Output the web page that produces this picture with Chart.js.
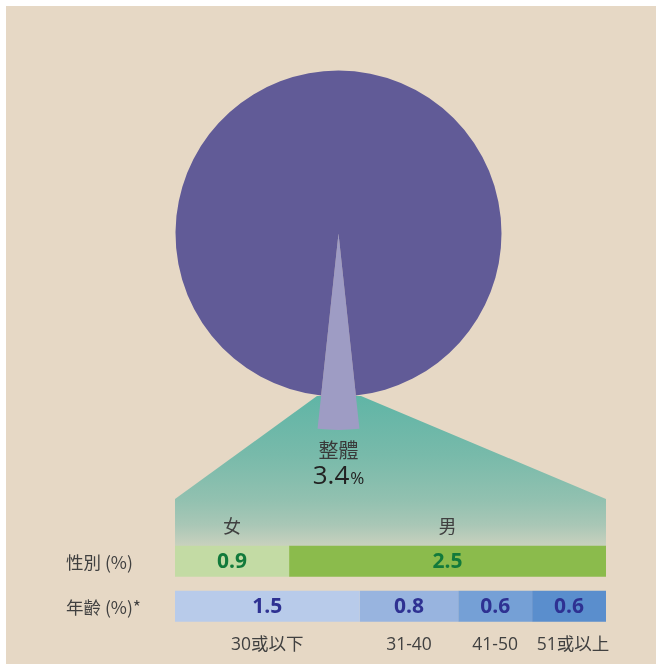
<!DOCTYPE html>
<html>
<head>
<meta charset="utf-8">
<script src="https://cdn.jsdelivr.net/npm/chart.js@4"></script>
<style>
  html, body { margin:0; padding:0; background:#ffffff; }
  #wrap { position:relative; width:660px; height:664px; overflow:hidden; background:#ffffff; }
  #paper { position:absolute; left:6px; top:6px; width:650px; height:658px; background:#e6d8c5; }
  #fan { position:absolute; left:0; top:0; width:660px; height:664px;
    clip-path: polygon(317px 396px, 361px 396px, 606px 499px, 606px 546px, 175px 546px, 175px 499px);
    background: linear-gradient(to bottom, #60b5a6 0px, #60b5a6 396px, #78baaa 455px, #92c1b0 500px, #a9c7b6 525px, #c9d1be 546px, #c9d1be 664px); }
  canvas { position:absolute; left:0; top:0; }
</style>
</head>
<body>
<div id="wrap">
  <div id="paper"></div>
  <div id="fan"></div>
  <canvas id="pie" width="660" height="664"></canvas>
  <canvas id="bars" width="660" height="664"></canvas>
</div>
<script>
// ---- data ----
const overallLabel = '整體';
const overallValue = 3.4;          // % overall
const pieValues = [3.4, 96.6];     // highlighted share, rest
const rowLabels = ['性別 (%)', '年齡 (%)*'];
const genderLabels = ['女', '男'];
const genderValues = [0.9, 2.5];
const ageLabels = ['30或以下', '31-40', '41-50', '51或以上'];
const ageValues = [1.5, 0.8, 0.6, 0.6];

// ---- styles ----
const pieColors = ['#9e9cc4', '#615b97'];
const genderColors = ['#c3dba4', '#8bbb4c'];
const ageColors = ['#b8cbea', '#98b4df', '#75a0d6', '#5a8ecd'];
const genderText = '#127a3b';
const ageText = '#2e3192';
const labelColor = '#404040';
const FONT = '"Open Sans", "Noto Sans CJK TC", sans-serif';
const CJK = '"Noto Sans CJK TC", "Open Sans", sans-serif';

const sum = a => a.reduce((s, v) => s + v, 0);

// ---- pie ----
const pieTotal = sum(pieValues);
const pieRotation = 180 - (pieValues[0] / pieTotal) * 180;

const extendWedge = {
  id: 'extendWedge',
  beforeDatasetsDraw(chart) {
    const arc = chart.getDatasetMeta(0).data[0];
    const base = chart.getDatasetMeta(0).data[1].outerRadius;
    arc.outerRadius = base * 1.205;
  }
};
const pieText = {
  id: 'pieText',
  afterDraw(chart) {
    const ctx = chart.ctx;
    const arc = chart.getDatasetMeta(0).data[0];
    const cx = arc.x;
    ctx.save();
    ctx.fillStyle = '#3a3a3a';
    ctx.textAlign = 'center';
    ctx.textBaseline = 'middle';
    ctx.font = '20px ' + CJK;
    ctx.fillText(overallLabel, cx, 450);
    ctx.fillStyle = '#222222';
    ctx.textBaseline = 'alphabetic';
    const big = '26px ' + FONT, small = '17px ' + FONT;
    const num = String(overallValue);
    ctx.font = big; const w1 = ctx.measureText(num).width;
    ctx.font = small; const w2 = ctx.measureText('%').width;
    const x0 = cx - (w1 + w2 + 1) / 2;
    ctx.textAlign = 'left';
    ctx.font = big; ctx.fillText(num, x0, 484);
    ctx.font = small; ctx.fillText('%', x0 + w1 + 1, 484);
    ctx.restore();
  }
};

new Chart(document.getElementById('pie'), {
  type: 'pie',
  data: {
    labels: ['整體', ''],
    datasets: [{ data: pieValues, backgroundColor: pieColors, borderWidth: 0, clip: false }]
  },
  options: {
    responsive: false,
    animation: false,
    rotation: pieRotation,
    layout: { padding: { left: 175.5, right: 158.5, top: 70.5, bottom: 267.5 } },
    plugins: { legend: { display: false }, tooltip: { enabled: false } }
  },
  plugins: [extendWedge, pieText]
});

// ---- bars ----
const datasets = [];
genderValues.forEach((v, i) => datasets.push({
  label: genderLabels[i], data: [v, null], xAxisID: 'xg', stack: 's',
  backgroundColor: genderColors[i], borderWidth: 0, skipNull: true, group: 'g', idx: i
}));
ageValues.forEach((v, i) => datasets.push({
  label: ageLabels[i], data: [null, v], xAxisID: 'xa', stack: 's',
  backgroundColor: ageColors[i], borderWidth: 0, skipNull: true, group: 'a', idx: i
}));

const barText = {
  id: 'barText',
  afterDatasetsDraw(chart) {
    const ctx = chart.ctx;
    ctx.save();
    ctx.textAlign = 'center';
    ctx.textBaseline = 'middle';
    chart.data.datasets.forEach((ds, di) => {
      const meta = chart.getDatasetMeta(di);
      const row = ds.group === 'g' ? 0 : 1;
      const bar = meta.data[row];
      const cx = (bar.x + bar.base) / 2;
      const val = ds.data[row];
      ctx.font = 'bold 21px ' + FONT;
      ctx.fillStyle = ds.group === 'g' ? genderText : ageText;
      ctx.fillText(val.toFixed(1), cx, bar.y + 1);
      ctx.fillStyle = labelColor;
      if (ds.group === 'g') {
        ctx.font = '18px ' + CJK;
        ctx.fillText(ds.label, cx, bar.y - 35);
      } else {
        ctx.font = '17.5px ' + FONT;
        ctx.fillText(ds.label, cx + (ds.idx === 3 ? 4 : 0), bar.y + 38.5);
      }
    });
    // row labels
    const ys = chart.scales.y;
    ctx.textAlign = 'left';
    ctx.fillStyle = labelColor;
    ctx.font = '17.5px ' + CJK;
    rowLabels.forEach((l, i) => ctx.fillText(l, 66, ys.getPixelForValue(i) + 1));
    ctx.restore();
  }
};

new Chart(document.getElementById('bars'), {
  type: 'bar',
  data: { labels: rowLabels, datasets },
  options: {
    responsive: false,
    animation: false,
    indexAxis: 'y',
    datasets: { bar: { categoryPercentage: 1.0, barPercentage: 0.69 } },
    layout: { padding: { left: 175, right: 54, top: 538.75, bottom: 35.25 } },
    scales: {
      y: { display: false, stacked: true },
      xg: { type: 'linear', axis: 'x', position: 'bottom', display: false, stacked: true, min: 0, max: sum(genderValues) },
      xa: { type: 'linear', axis: 'x', position: 'bottom', display: false, stacked: true, min: 0, max: sum(ageValues) }
    },
    plugins: { legend: { display: false }, tooltip: { enabled: false } }
  },
  plugins: [barText]
});
</script>
</body>
</html>
